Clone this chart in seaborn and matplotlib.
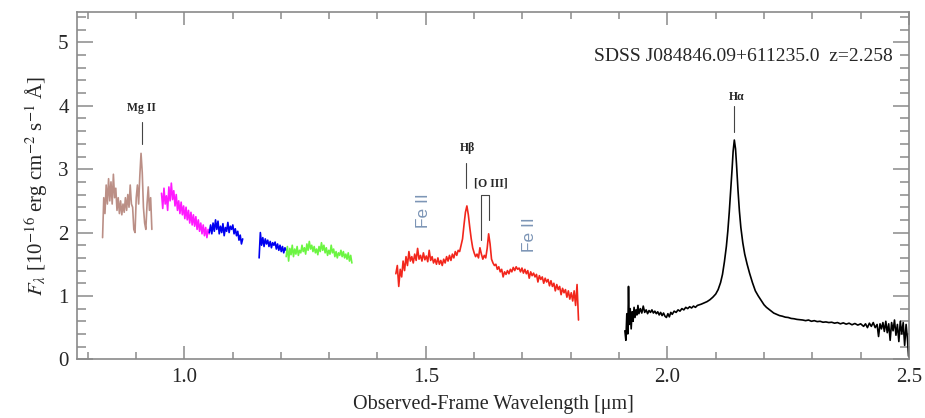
import numpy as np
import pandas as pd
import matplotlib
matplotlib.use("Agg")
import matplotlib.pyplot as plt
import seaborn as sns
from matplotlib.ticker import MultipleLocator

# spectral pieces: (start um, end um) + flux on an even grid
brown_range = (0.831, 0.933)
brown_flux = [1.92, 2.55, 2.30, 2.75, 2.45, 2.85, 2.50, 2.80, 2.45, 2.92, 2.55, 2.70,
              2.35, 2.55, 2.30, 2.50, 2.28, 2.45, 2.32, 2.55, 2.35, 2.60, 2.40, 2.75,
              2.45, 2.40, 2.05, 2.00, 2.55, 2.75, 2.45, 2.90, 3.25, 2.95, 2.40, 2.15,
              2.05, 2.45, 2.72, 2.35, 2.55, 2.05]

magenta_range = (0.953, 1.052)
magenta_flux = [2.62, 2.38, 2.70, 2.45, 2.58, 2.35, 2.72, 2.50, 2.78, 2.52, 2.66, 2.42,
                2.60, 2.35, 2.50, 2.30, 2.48, 2.28, 2.42, 2.22, 2.40, 2.20, 2.35, 2.15,
                2.32, 2.12, 2.28, 2.10, 2.25, 2.05, 2.20, 2.02, 2.15, 1.98, 2.12, 1.95,
                2.08, 1.92, 2.05, 1.98]

blue1_range = (1.052, 1.121)
blue1_flux = [2.00, 2.12, 1.98, 2.15, 2.02, 2.20, 2.05, 2.18, 1.98, 2.10, 2.00, 2.14,
              1.95, 2.08, 2.02, 2.16, 2.00, 2.10, 2.05, 2.12, 1.98, 2.06, 1.95, 2.02,
              1.88, 1.96, 1.82, 1.90]

blue2_range = (1.155, 1.211)
blue2_flux = [1.60, 2.00, 1.80, 1.92, 1.78, 1.90, 1.82, 1.88, 1.78, 1.86, 1.76, 1.84,
              1.80, 1.85, 1.74, 1.82, 1.72, 1.80, 1.70, 1.78, 1.68, 1.76, 1.72]

green_range = (1.211, 1.347)
green_flux = [1.62, 1.78, 1.55, 1.75, 1.65, 1.80, 1.62, 1.74, 1.66, 1.78, 1.64, 1.72,
              1.68, 1.80, 1.70, 1.76, 1.66, 1.82, 1.72, 1.86, 1.74, 1.80, 1.70, 1.78,
              1.68, 1.74, 1.65, 1.78, 1.70, 1.84, 1.72, 1.80, 1.68, 1.76, 1.64, 1.72,
              1.66, 1.80, 1.68, 1.74, 1.62, 1.70, 1.60, 1.68, 1.64, 1.72, 1.62, 1.70,
              1.60, 1.66, 1.58, 1.68, 1.55, 1.64, 1.52]

red_range = (1.438, 1.816)
red_flux = [1.35, 1.48, 1.15, 1.42, 1.30, 1.55, 1.40, 1.62, 1.48, 1.70, 1.55, 1.62,
            1.52, 1.66, 1.56, 1.75, 1.58, 1.64, 1.55, 1.68, 1.57, 1.63, 1.54, 1.72,
            1.56, 1.62, 1.52, 1.58, 1.50, 1.60, 1.50, 1.56, 1.48, 1.58, 1.52, 1.62,
            1.55, 1.64, 1.56, 1.66, 1.60, 1.70, 1.64, 1.72, 1.70, 1.80, 1.90, 2.12,
            2.32, 2.42, 2.28, 2.08, 1.90, 1.76, 1.68, 1.62, 1.66, 1.60, 1.76, 1.66,
            1.58, 1.64, 1.60, 1.75, 1.98, 1.82, 1.58, 1.52, 1.48, 1.50, 1.42, 1.46,
            1.38, 1.42, 1.30, 1.38, 1.34, 1.40, 1.35, 1.42, 1.38, 1.45, 1.40, 1.46,
            1.42, 1.44, 1.38, 1.44, 1.36, 1.42, 1.35, 1.40, 1.28, 1.38, 1.32, 1.36,
            1.30, 1.34, 1.22, 1.32, 1.26, 1.30, 1.20, 1.28, 1.22, 1.26, 1.16, 1.24,
            1.15, 1.20, 1.08, 1.18, 1.10, 1.15, 1.02, 1.12, 1.05, 1.10, 0.98, 1.08,
            0.95, 1.05, 0.92, 1.08, 0.85, 1.18, 0.62]

# K-band piece, uneven sampling (wavelength, flux)
black_pts = [
    (1.912, 0.45), (1.914, 0.30), (1.916, 0.72), (1.918, 0.40), (1.9195, 1.15),
    (1.921, 0.55), (1.923, 0.80), (1.925, 0.48), (1.927, 0.75), (1.929, 0.60),
    (1.931, 0.82), (1.933, 0.66), (1.935, 0.78), (1.937, 0.70), (1.939, 0.85),
    (1.941, 0.72), (1.944, 0.80), (1.947, 0.73), (1.950, 0.84), (1.953, 0.74),
    (1.956, 0.78), (1.959, 0.72), (1.962, 0.77), (1.965, 0.74), (1.968, 0.78),
    (1.971, 0.73), (1.974, 0.76), (1.977, 0.72), (1.980, 0.75), (1.983, 0.70),
    (1.986, 0.74), (1.989, 0.69), (1.992, 0.73), (1.995, 0.68), (1.998, 0.66),
    (2.001, 0.72), (2.004, 0.67), (2.007, 0.74), (2.010, 0.71), (2.014, 0.76),
    (2.018, 0.74), (2.022, 0.78), (2.026, 0.76), (2.030, 0.80), (2.034, 0.78),
    (2.038, 0.82), (2.042, 0.80), (2.046, 0.83), (2.050, 0.81), (2.054, 0.84),
    (2.058, 0.82), (2.062, 0.85), (2.066, 0.86), (2.070, 0.87), (2.076, 0.89),
    (2.082, 0.91), (2.088, 0.94), (2.094, 0.98), (2.100, 1.03), (2.105, 1.10),
    (2.110, 1.21), (2.114, 1.34), (2.118, 1.54), (2.122, 1.78), (2.125, 2.02),
    (2.128, 2.32), (2.131, 2.66), (2.134, 3.02), (2.136, 3.28), (2.1385, 3.46),
    (2.141, 3.32), (2.143, 3.08), (2.146, 2.68), (2.149, 2.34), (2.152, 2.08),
    (2.156, 1.84), (2.160, 1.66), (2.165, 1.50), (2.170, 1.36), (2.176, 1.21),
    (2.182, 1.08), (2.188, 1.00), (2.194, 0.93), (2.200, 0.86), (2.205, 0.82),
    (2.210, 0.79), (2.215, 0.76), (2.220, 0.73), (2.226, 0.71), (2.232, 0.69),
    (2.238, 0.68), (2.244, 0.665), (2.250, 0.66), (2.256, 0.645), (2.262, 0.64),
    (2.268, 0.63), (2.274, 0.625), (2.280, 0.62), (2.286, 0.61), (2.292, 0.62),
    (2.298, 0.60), (2.304, 0.61), (2.310, 0.595), (2.316, 0.60), (2.322, 0.585),
    (2.328, 0.59), (2.334, 0.58), (2.340, 0.585), (2.346, 0.57), (2.352, 0.58),
    (2.358, 0.56), (2.364, 0.575), (2.370, 0.555), (2.376, 0.57), (2.382, 0.545),
    (2.388, 0.565), (2.394, 0.54), (2.400, 0.56), (2.406, 0.52), (2.410, 0.56),
    (2.414, 0.50), (2.418, 0.57), (2.422, 0.52), (2.426, 0.58), (2.430, 0.50),
    (2.434, 0.55), (2.437, 0.36), (2.440, 0.56), (2.443, 0.48), (2.446, 0.58),
    (2.449, 0.44), (2.452, 0.60), (2.455, 0.42), (2.458, 0.56), (2.461, 0.30),
    (2.464, 0.58), (2.467, 0.45), (2.470, 0.62), (2.473, 0.38), (2.476, 0.55),
    (2.479, 0.28), (2.482, 0.60), (2.485, 0.40), (2.488, 0.58), (2.491, 0.22),
    (2.494, 0.55), (2.497, 0.30), (2.499, 0.05),
]

seg_colors = {"brown": "#bb8f86", "magenta": "#ff1aff", "blue1": "#0000f0",
              "blue2": "#0000f0", "green": "#6cf542", "red": "#f2261c", "black": "black"}

# emission line markers: name, wavelength, tick bottom, tick top, label x, label y
line_names = ["Mg II", "H\u03b2", "H\u03b1"]
line_wl = [0.912, 1.583, 2.138]
line_lo = [3.40, 2.70, 3.59]
line_hi = [3.74, 3.09, 4.00]
label_x = [0.912, 1.587, 2.143]
label_y = [3.96, 3.33, 4.14]

sns.set_style("ticks")
plt.rcParams['font.family'] = ['Liberation Serif', 'DejaVu Serif']
plt.rcParams['mathtext.fontset'] = 'stix'

pieces = {"brown": (brown_range, brown_flux), "magenta": (magenta_range, magenta_flux),
          "blue1": (blue1_range, blue1_flux), "blue2": (blue2_range, blue2_flux),
          "green": (green_range, green_flux), "red": (red_range, red_flux)}
frames = []
for name, (rng, flux) in pieces.items():
    frames.append(pd.DataFrame({"wl": np.linspace(rng[0], rng[1], len(flux)),
                                "flux": flux, "seg": name}))
bw, bf = zip(*black_pts)
frames.append(pd.DataFrame({"wl": bw, "flux": bf, "seg": "black"}))
df = pd.concat(frames, ignore_index=True)

fig = plt.figure(figsize=(9.25, 4.18), dpi=100)
ax = fig.add_axes([0.0832, 0.1404, 0.8995, 0.8309])
sns.lineplot(data=df, x="wl", y="flux", hue="seg", palette=seg_colors,
             estimator=None, sort=False, lw=1.2, legend=False, ax=ax)

ax.set_xlim(0.778, 2.5)
ax.set_ylim(0, 5.48)
ax.xaxis.set_major_locator(MultipleLocator(0.5))
ax.xaxis.set_minor_locator(MultipleLocator(0.1))
ax.yaxis.set_major_locator(MultipleLocator(1))
ax.yaxis.set_minor_locator(MultipleLocator(0.2))
ax.xaxis.set_major_formatter(matplotlib.ticker.FormatStrFormatter("%.1f"))

for s in ax.spines.values():
    s.set_color("#8a8a8a")
    s.set_linewidth(1.2)
ax.tick_params(which="both", direction="in", top=True, right=True, color="#8a8a8a",
               labelsize=15, width=1.1, pad=6)
ax.tick_params(axis="x", which="major", length=9.5)
ax.tick_params(axis="x", which="minor", length=5)
ax.tick_params(axis="y", which="major", length=11.5)
ax.tick_params(axis="y", which="minor", length=6.5)

ax.set_xlabel("Observed-Frame Wavelength [\u03bcm]", fontsize=14.5, labelpad=6)
ax.set_ylabel(r"$F_\lambda$ [10$^{-16}$ erg cm$^{-2}$ s$^{-1}$ Å]", fontsize=15, labelpad=6)

for name, w, lo, hi, tx, ty in zip(line_names, line_wl, line_lo, line_hi, label_x, label_y):
    ax.plot([w, w], [lo, hi], color="#444444", lw=0.8)
    ax.text(tx, ty, name, ha="center", va="center", fontsize=8.5, fontweight="bold")

# [O III] doublet bracket
ax.plot([1.614, 1.614, 1.631, 1.631], [1.88, 2.59, 2.59, 2.20], color="#444444", lw=0.8)
ax.text(1.635, 2.77, "[O III]", ha="center", va="center", fontsize=8.5, fontweight="bold")

for x, y in [(1.496, 2.34), (1.7155, 1.97)]:
    ax.text(x, y, "Fe II", rotation=90, ha="center", va="center", fontsize=12.5,
            color="#7c95b6", family=["Liberation Sans", "DejaVu Sans"])

ax.text(2.466, 4.77, "SDSS J084846.09+611235.0  z=2.258", ha="right", va="center",
        fontsize=14)

fig.savefig("out.png", dpi=100)
